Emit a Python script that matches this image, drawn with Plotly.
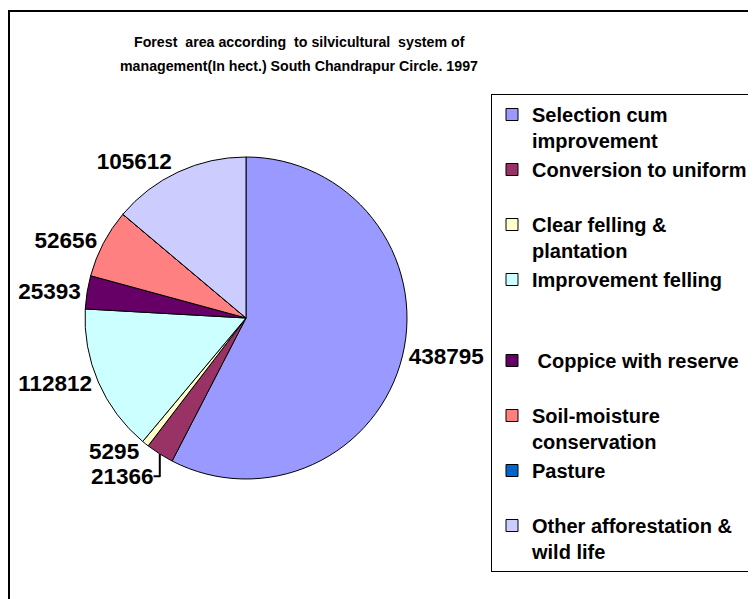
import plotly.graph_objects as go

# data (hectares)
systems = [
    "Selection cum<br>improvement",
    "Conversion to uniform<br> ",
    "Clear felling &<br>plantation",
    "Improvement felling<br> <br> ",
    " Coppice with reserve<br> ",
    "Soil-moisture<br>conservation",
    "Pasture<br> ",
    "Other afforestation &<br>wild life",
]
areas = [438795, 21366, 5295, 112812, 25393, 52656, 0, 105612]
colors = ["#9999FF", "#993366", "#FFFFCC", "#CCFFFF", "#660066", "#FF8080", "#0066CC", "#CCCCFF"]
title_lines = [
    "Forest  area according  to silvicultural  system of",
    "management(In hect.) South Chandrapur Circle. 1997",
]

W, H = 756, 599
OFF = 8  # page body margin shifts the figure by 8px
cx, cy, r = 246 - OFF, 318 - OFF, 161  # pie centre / radius in px


def px(x):
    return x / W


def py(y):
    return 1 - y / H


FONT = "Liberation Sans, Arial"

fig = go.Figure(go.Pie(
    labels=systems, values=areas, sort=False, direction="clockwise", rotation=0,
    marker=dict(colors=colors, line=dict(color="black", width=1)),
    texttemplate=["%{value:d}" if v else "" for v in areas], textposition="outside",
    outsidetextfont=dict(family=FONT, size=22.5, color="black", weight="bold"),
    domain=dict(x=[px(cx - r), px(cx + r)], y=[py(cy + r), py(cy - r)]),
    automargin=False, showlegend=True, hoverinfo="label+value+percent",
))

ann = []
for i, line in enumerate(title_lines):
    ann.append(dict(
        text=line, xref="paper", yref="paper", x=px(299 - OFF), y=py(42 + 24 * i - OFF),
        xanchor="center", yanchor="middle", showarrow=False,
        font=dict(family=FONT, size=14.2, color="black", weight="bold"),
    ))

fig.update_layout(
    width=W, height=H,
    margin=dict(l=0, r=0, t=0, b=0, autoexpand=False),
    paper_bgcolor="white", plot_bgcolor="white",
    font=dict(family=FONT, color="black"),
    annotations=ann,
    legend=dict(
        x=px(491 - OFF), xanchor="left", y=py(94 - OFF), yanchor="top",
        bgcolor="white", bordercolor="black", borderwidth=1,
        font=dict(family=FONT, size=20, weight="bold", color="black"),
        valign="top", itemclick=False,
    ),
    shapes=[dict(type="rect", xref="paper", yref="paper",
                 x0=px(9 - OFF), x1=1.05, y0=-0.05, y1=py(11 - OFF),
                 line=dict(color="black", width=2), fillcolor="rgba(0,0,0,0)")],
)

fig.write_html("out.html")
